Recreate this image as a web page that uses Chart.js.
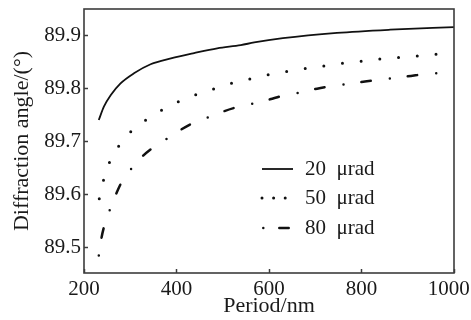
<!DOCTYPE html>
<html><head><meta charset="utf-8">
<script src="https://cdn.jsdelivr.net/npm/chart.js@4.4.1/dist/chart.umd.min.js"></script>
<style>html,body{margin:0;padding:0;background:#fff;}canvas{display:block;}</style>
</head><body>
<canvas id="c" width="471" height="320"></canvas>
<script>
// ---- data ----
const xTicks = [200, 400, 600, 800, 1000];
const yTicks = [89.5, 89.6, 89.7, 89.8, 89.9];
const seriesLabels = ['20 μrad', '50 μrad', '80 μrad'];

const period20 = [232, 243, 258, 279, 308, 344, 388, 438, 488, 539, 568, 630, 747, 862, 1000];
const angle20  = [89.740, 89.765, 89.787, 89.809, 89.828, 89.845, 89.856, 89.866, 89.875, 89.881, 89.886, 89.894, 89.904, 89.910, 89.915];

const period50 = [233, 242, 255, 275, 300, 332, 367, 403, 440, 478, 518, 557, 597, 637, 680, 720, 760, 802, 842, 884, 924, 966, 1000];
const angle50  = [89.592, 89.626, 89.660, 89.691, 89.717, 89.739, 89.758, 89.774, 89.787, 89.798, 89.809, 89.817, 89.825, 89.831, 89.837, 89.842, 89.847, 89.851, 89.855, 89.858, 89.861, 89.864, 89.866];

const period80 = [232, 238, 243, 255, 271, 282, 302, 328, 349, 380, 410, 435, 472, 501, 530, 570, 602, 631, 668, 704, 730, 769, 804, 831, 870, 907, 934, 972, 1000];
const angle80  = [89.485, 89.519, 89.538, 89.569, 89.604, 89.624, 89.648, 89.673, 89.688, 89.705, 89.722, 89.734, 89.746, 89.756, 89.764, 89.772, 89.779, 89.786, 89.792, 89.799, 89.803, 89.808, 89.812, 89.815, 89.819, 89.823, 89.826, 89.829, 89.831];

const toXY = (xs, ys) => xs.map((x, i) => ({x: x, y: ys[i]}));

Chart.defaults.font.family = '"Liberation Serif", "Times New Roman", serif';
Chart.defaults.color = '#1a1a1a';

const frameAndLegend = {
  id: 'frameAndLegend',
  afterDatasetsDraw(chart) {
    const {ctx, chartArea: a} = chart;
    ctx.save();
    ctx.strokeStyle = '#3c3c3c';
    ctx.lineWidth = 1.6;
    ctx.strokeRect(a.left, a.top, a.right - a.left, a.bottom - a.top);
    ctx.restore();
  },
  afterDraw(chart) {
    const {ctx, chartArea: a} = chart;
    const x0 = a.left + 178, textX = a.left + 221;
    const rows = [a.top + 160, a.top + 189, a.top + 219];
    chart.data.datasets.forEach((ds, i) => {
      const y = rows[i];
      ctx.save();
      ctx.strokeStyle = ds.borderColor;
      ctx.lineWidth = ds.borderWidth;
      ctx.lineCap = ds.borderCapStyle || 'butt';
      ctx.setLineDash(ds.legendDash);
      ctx.beginPath();
      ctx.moveTo(x0 + ds.legendStart, y);
      ctx.lineTo(x0 + ds.legendEnd, y);
      ctx.stroke();
      ctx.setLineDash([]);
      ctx.fillStyle = '#1a1a1a';
      ctx.font = '21px "Liberation Serif"';
      ctx.textBaseline = 'middle';
      ctx.textAlign = 'left';
      ctx.fillText(ds.label.replace(' ', '\u2002'), textX, y);
      ctx.restore();
    });
  }
};

new Chart(document.getElementById('c'), {
  type: 'line',
  data: {
    datasets: [
      {label: seriesLabels[0], data: toXY(period20, angle20), borderColor: '#111', borderWidth: 1.8,
       borderDash: [], borderCapStyle: 'butt', legendDash: [], legendStart: 0, legendEnd: 31},
      {label: seriesLabels[1], data: toXY(period50, angle50), borderColor: '#111', borderWidth: 3,
       borderDash: [0, 18.8], borderCapStyle: 'round', legendDash: [0, 11.6], legendStart: 0, legendEnd: 24},
      {label: seriesLabels[2], data: toXY(period80, angle80), borderColor: '#111', borderWidth: 2.5,
       borderDash: [0, 18, 9.5, 19.2], borderCapStyle: 'round', legendDash: [0, 16, 9.4, 100], legendStart: 1.3, legendEnd: 27}
    ]
  },
  options: {
    responsive: false,
    animation: false,
    elements: {point: {radius: 0}, line: {cubicInterpolationMode: 'monotone', fill: false}},
    layout: {padding: {left: 0, right: 17, top: 9, bottom: 0}},
    plugins: {legend: {display: false}, tooltip: {enabled: false}},
    scales: {
      x: {
        type: 'linear', min: 200, max: 1000,
        afterBuildTicks: s => { s.ticks = xTicks.map(v => ({value: v})); },
        afterFit: s => { s.height = 47; s.paddingLeft = 0; s.paddingRight = 0; },
        border: {display: false},
        grid: {drawOnChartArea: false, drawTicks: true, tickLength: -4, tickWidth: 1.5, tickColor: '#3c3c3c'},
        ticks: {font: {size: 21}, padding: 8, maxRotation: 0, autoSkip: false,
                callback: v => v === 1000 ? '1000\u2002' : String(v)},
        title: {display: true, text: 'Period/nm', font: {size: 22}, padding: {top: 0, bottom: 1}}
      },
      y: {
        type: 'linear', min: 89.452, max: 89.949,
        afterBuildTicks: s => { s.ticks = yTicks.map(v => ({value: v})); },
        afterFit: s => { s.width = 84; s.paddingTop = 0; s.paddingBottom = 0; },
        border: {display: false},
        grid: {drawOnChartArea: false, drawTicks: true, tickLength: -4, tickWidth: 1.5, tickColor: '#3c3c3c'},
        ticks: {font: {size: 21}, padding: 7, autoSkip: false, callback: v => v.toFixed(1)},
        title: {display: true, text: 'Diffraction angle/(°)', font: {size: 22}, padding: {top: 9, bottom: 0}}
      }
    }
  },
  plugins: [frameAndLegend]
});
</script>
</body></html>
